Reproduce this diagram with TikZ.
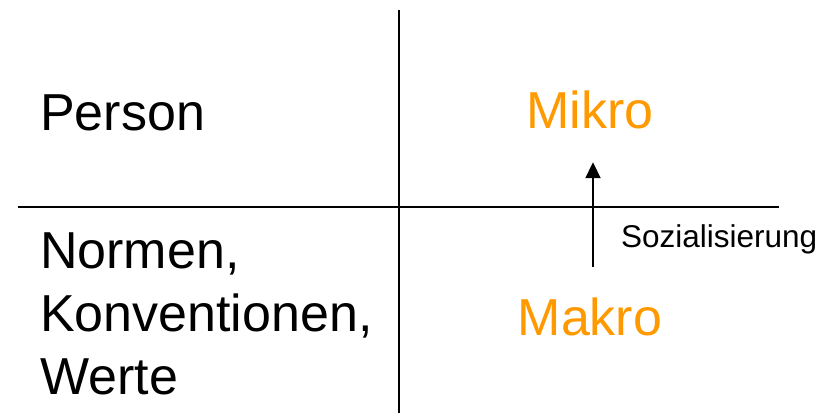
\documentclass[tikz,border=0pt]{standalone}
\usepackage{fontspec}
\setmainfont{Liberation Sans}
\usepackage{tikz}
\usetikzlibrary{arrows.meta, positioning}
\definecolor{mkorange}{RGB}{255,153,0}

\begin{document}
\begin{tikzpicture}[x=1pt,y=-1pt,inner sep=0pt,
      big/.style={font=\fontsize{52}{63}\selectfont},
      level/.style={big, text=mkorange, anchor=base, text height=37pt, text depth=0pt},
      axis/.style={line width=2pt},
      arr/.style={line width=2pt, -{Triangle[length=16pt,width=15pt]}}]
      \useasboundingbox (0,0) rectangle (828,413);
      \node[big, anchor=base west] (person) at (40,130) {Person};
      \node[big, anchor=base west, align=left] (normen) at (40,394)
            {Normen,\\Konventionen,\\Werte};
      \node[level] (mikro) at (590,128) {Mikro};
      \node[level] (makro) at (590,335) {Makro};
      \draw[axis] (399,10) -- (399,413);
      \draw[axis] (18,207) -- (779,207);
      \draw[arr, shorten <=31pt, shorten >=34pt]
            ([xshift=3pt]makro.north) -- ([xshift=3pt]mikro.south);
      \node[font=\fontsize{31.5}{38}\selectfont, anchor=base west] (sozial) at (621,247) {Sozialisierung};
    \end{tikzpicture}
\end{document}
